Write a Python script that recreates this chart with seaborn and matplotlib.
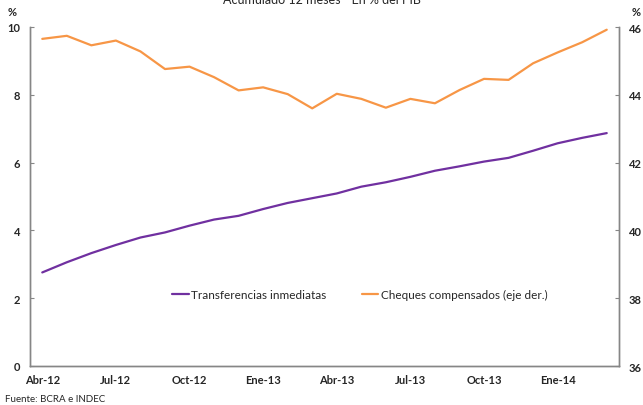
import matplotlib
matplotlib.use("Agg")
import matplotlib.pyplot as plt
import seaborn as sns
import numpy as np
import pandas as pd

# Data
months = ["Abr-12", "May-12", "Jun-12", "Jul-12", "Ago-12", "Sep-12",
          "Oct-12", "Nov-12", "Dic-12", "Ene-13", "Feb-13", "Mar-13",
          "Abr-13", "May-13", "Jun-13", "Jul-13", "Ago-13", "Sep-13",
          "Oct-13", "Nov-13", "Dic-13", "Ene-14", "Feb-14", "Mar-14"]
transferencias = [2.76, 3.06, 3.33, 3.57, 3.79, 3.94, 4.14, 4.32, 4.43, 4.63,
                  4.81, 4.95, 5.09, 5.29, 5.42, 5.58, 5.76, 5.89, 6.03, 6.14,
                  6.35, 6.57, 6.73, 6.87]
cheques = [45.65, 45.74, 45.46, 45.60, 45.28, 44.76, 44.83, 44.52, 44.13, 44.22,
           44.02, 43.60, 44.03, 43.88, 43.62, 43.88, 43.75, 44.14, 44.47, 44.44,
           44.93, 45.25, 45.55, 45.92]
left_ticks = [0, 2, 4, 6, 8, 10]
right_ticks = [36, 38, 40, 42, 44, 46]

df = pd.DataFrame({"pos": np.arange(len(months)), "mes": months,
                   "transf": transferencias, "cheques": cheques})

sns.set_style("white")
plt.rcParams["font.family"] = ["Lato", "DejaVu Sans"]

PURPLE = "#7030A0"
ORANGE = "#F79646"
GREY = "#868686"

fig = plt.figure(figsize=(6.43, 4.06), dpi=100)
ax = fig.add_axes([30 / 643, 1 - 367 / 406, 589 / 643, 339 / 406])
ax2 = ax.twinx()

sns.lineplot(data=df, x="pos", y="transf", ax=ax, color=PURPLE, linewidth=1.6,
             label="Transferencias inmediatas", legend=False)
sns.lineplot(data=df, x="pos", y="cheques", ax=ax2, color=ORANGE, linewidth=1.6,
             label="Cheques compensados (eje der.)", legend=False)

ax.set_xlim(-0.5, len(months) - 0.5)
ax.set_ylim(0, 10)
ax2.set_ylim(36, 46)
ax.set_yticks(left_ticks)
ax2.set_yticks(right_ticks)

label_pos = df["pos"][::3]
ax.set_xticks(label_pos)
ax.set_xticklabels(df["mes"][::3])
ax.set_xticks(np.arange(2.5, len(months) - 1, 3), minor=True)
ax.set_xlabel("")
ax.set_ylabel("")
ax2.set_ylabel("")

for a in (ax, ax2):
    for s in a.spines.values():
        s.set_color(GREY)
        s.set_linewidth(1.0)
    a.spines["top"].set_visible(False)

ax.tick_params(axis="x", which="major", length=0, pad=6, labelsize=8)
ax.tick_params(axis="x", which="minor", length=3, direction="in", color=GREY)
ax.tick_params(axis="y", length=3, direction="in", color=GREY, pad=7, labelsize=8)
ax2.tick_params(axis="y", length=3, direction="in", color=GREY, pad=7, labelsize=8)
for lab in ax.get_xticklabels() + ax.get_yticklabels() + ax2.get_yticklabels():
    lab.set_fontweight("bold")

# Legend
handles = ax.get_lines()[:1] + ax2.get_lines()[:1]
ax.legend(handles, [h.get_label() for h in handles], ncol=2, frameon=False,
          loc="center", bbox_to_anchor=(0.56, 0.21), fontsize=8.5,
          handlelength=1.4, handletextpad=0.2, columnspacing=3.0)

# Texts
fig.text(0.5, 1.0, "Acumulado 12 meses - En % del PIB", ha="center", va="center",
         fontsize=9)
fig.text(12 / 643, 1 - 12 / 406, "%", ha="center", va="center",
         fontsize=8, fontweight="bold")
fig.text(636 / 643, 1 - 12 / 406, "%", ha="center", va="center",
         fontsize=8, fontweight="bold")
fig.text(5 / 643, 1 - 400 / 406, "Fuente: BCRA e INDEC", ha="left", va="center",
         fontsize=7)

fig.savefig("out.png", dpi=100)
